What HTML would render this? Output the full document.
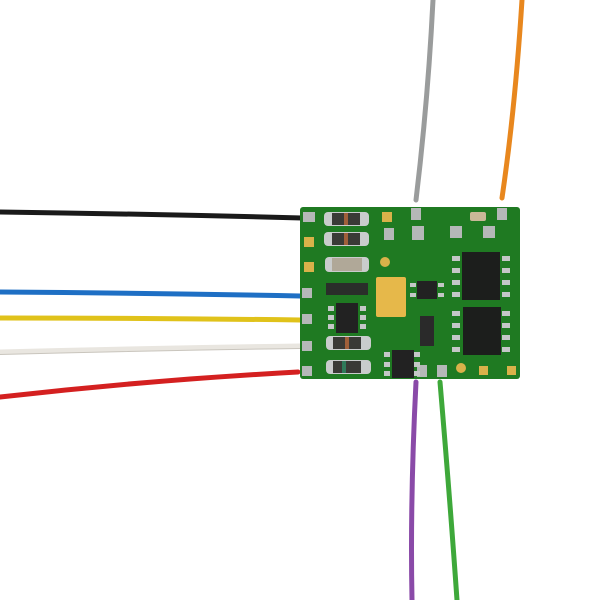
<!DOCTYPE html>
<html><head><style>body{margin:0;background:#fff}svg{display:block}</style></head><body>
<svg width="600" height="600" viewBox="0 0 600 600" xmlns="http://www.w3.org/2000/svg">
<g fill="none" stroke-linecap="round">
<path d="M0 212 Q150 214 302 218" stroke="#1a1a1a" stroke-width="5"/>
<path d="M0 292 Q150 293 300 296" stroke="#1e6fc4" stroke-width="5"/>
<path d="M0 318 Q150 318 300 320" stroke="#e0c21a" stroke-width="5"/>
<path d="M0 352 Q150 348 300 346" stroke="#e9e6e0" stroke-width="5"/>
<path d="M0 352 Q150 348 300 346" stroke="#c9c5bd" stroke-width="1" transform="translate(0,2.5)"/>
<path d="M0 397 Q150 380 298 372" stroke="#d42020" stroke-width="5"/>
<path d="M433 0 Q428 100 416 200" stroke="#9a9c9c" stroke-width="5"/>
<path d="M522 0 Q515 110 502 198" stroke="#e8871e" stroke-width="5"/>
<path d="M416 382 Q410 500 412 600" stroke="#8a4aa8" stroke-width="5"/>
<path d="M440 382 Q450 500 457 600" stroke="#3ea83a" stroke-width="5"/>
</g>
<rect x="300" y="207" width="220" height="172" rx="3" fill="#1f7a22"/>
<g fill="#b5b8b8">
<rect x="303" y="212" width="12" height="10"/><rect x="302" y="288" width="10" height="10"/><rect x="302" y="314" width="10" height="10"/>
<rect x="302" y="341" width="10" height="10"/><rect x="302" y="366" width="10" height="10"/>
<rect x="411" y="208" width="10" height="12"/><rect x="497" y="208" width="10" height="12"/>
<rect x="417" y="365" width="10" height="12"/><rect x="437" y="365" width="10" height="12"/>
<rect x="384" y="228" width="10" height="12"/><rect x="412" y="226" width="12" height="14"/><rect x="450" y="226" width="12" height="12"/><rect x="483" y="226" width="12" height="12"/>
</g>
<g fill="#d9b24a">
<rect x="304" y="237" width="10" height="10"/><rect x="304" y="262" width="10" height="10"/>
<rect x="382" y="212" width="10" height="10"/><rect x="479" y="366" width="9" height="9"/><rect x="507" y="366" width="9" height="9"/>
<circle cx="385" cy="262" r="5"/><circle cx="461" cy="368" r="5"/>
</g>
<g>
<rect x="324" y="212" width="45" height="14" rx="4" fill="#c9cccc"/><rect x="332" y="213" width="28" height="12" fill="#3a3a36"/><rect x="344" y="213" width="4" height="12" fill="#a0603a"/>
<rect x="324" y="232" width="45" height="14" rx="4" fill="#c9cccc"/><rect x="332" y="233" width="28" height="12" fill="#3a3a36"/><rect x="344" y="233" width="4" height="12" fill="#a0603a"/>
<rect x="325" y="257" width="44" height="15" rx="4" fill="#c9cccc"/><rect x="332" y="258" width="30" height="13" fill="#b0a898"/>
<rect x="326" y="283" width="42" height="12" fill="#2a2e2a"/>
<rect x="326" y="336" width="45" height="14" rx="4" fill="#c9cccc"/><rect x="333" y="337" width="28" height="12" fill="#3a3a36"/><rect x="345" y="337" width="4" height="12" fill="#a0603a"/>
<rect x="326" y="360" width="45" height="14" rx="4" fill="#c9cccc"/><rect x="333" y="361" width="28" height="12" fill="#3a3a36"/><rect x="342" y="361" width="4" height="12" fill="#2f7a5a"/>
<rect x="336" y="303" width="22" height="30" fill="#222"/>
<rect x="376" y="277" width="30" height="40" rx="2" fill="#e6b84a"/>
<rect x="417" y="281" width="20" height="18" fill="#222"/>
<rect x="420" y="316" width="14" height="30" fill="#2a2a2a"/>
<rect x="392" y="350" width="22" height="28" fill="#222"/>
<rect x="462" y="252" width="38" height="48" fill="#1c1e1c"/>
<rect x="463" y="307" width="38" height="48" fill="#1c1e1c"/>
<rect x="470" y="212" width="16" height="9" rx="2" fill="#c9b898"/>
</g>
<g fill="#c4c7c7">
<rect x="452" y="256" width="8" height="5"/><rect x="452" y="268" width="8" height="5"/><rect x="452" y="280" width="8" height="5"/><rect x="452" y="292" width="8" height="5"/>
<rect x="502" y="256" width="8" height="5"/><rect x="502" y="268" width="8" height="5"/><rect x="502" y="280" width="8" height="5"/><rect x="502" y="292" width="8" height="5"/>
<rect x="452" y="311" width="8" height="5"/><rect x="452" y="323" width="8" height="5"/><rect x="452" y="335" width="8" height="5"/><rect x="452" y="347" width="8" height="5"/>
<rect x="502" y="311" width="8" height="5"/><rect x="502" y="323" width="8" height="5"/><rect x="502" y="335" width="8" height="5"/><rect x="502" y="347" width="8" height="5"/>
<rect x="328" y="306" width="6" height="5"/><rect x="328" y="315" width="6" height="5"/><rect x="328" y="324" width="6" height="5"/>
<rect x="360" y="306" width="6" height="5"/><rect x="360" y="315" width="6" height="5"/><rect x="360" y="324" width="6" height="5"/>
<rect x="410" y="283" width="6" height="4"/><rect x="410" y="293" width="6" height="4"/><rect x="438" y="283" width="6" height="4"/><rect x="438" y="293" width="6" height="4"/>
<rect x="384" y="352" width="6" height="5"/><rect x="384" y="362" width="6" height="5"/><rect x="384" y="371" width="6" height="5"/>
<rect x="414" y="352" width="6" height="5"/><rect x="414" y="362" width="6" height="5"/><rect x="414" y="371" width="6" height="5"/>
</g>
</svg>
</body></html>
